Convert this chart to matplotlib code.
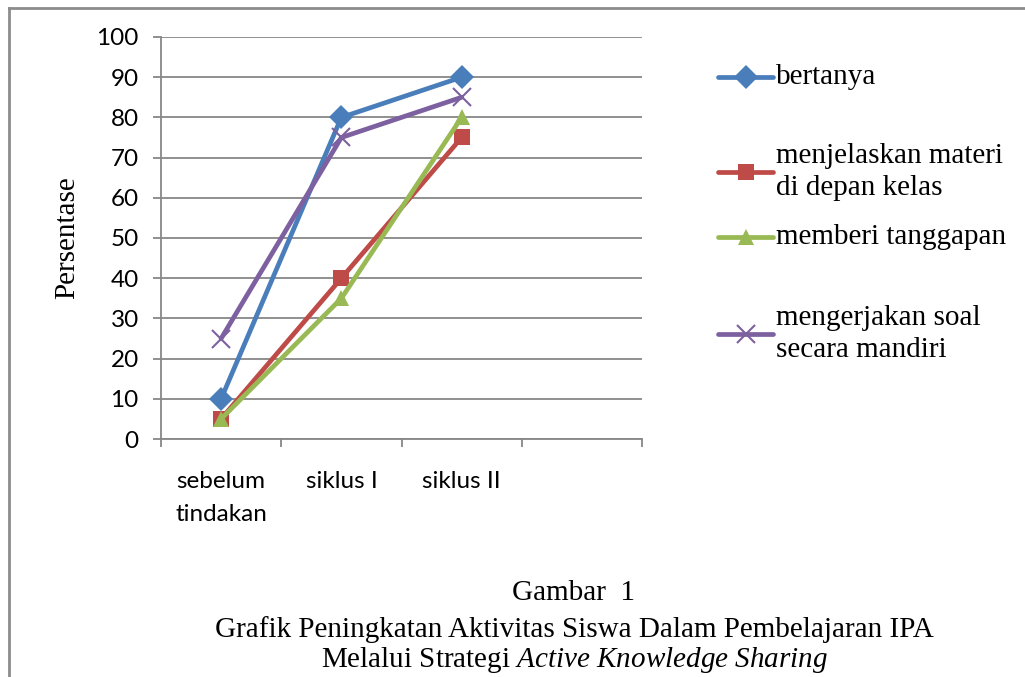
import matplotlib
matplotlib.use('Agg')
import matplotlib.pyplot as plt
from matplotlib.lines import Line2D
import numpy as np

# data
categories = ['sebelum\ntindakan', 'siklus I', 'siklus II']
bertanya = [10, 80, 90]
menjelaskan = [5, 40, 75]
memberi = [5, 35, 80]
mengerjakan = [25, 75, 85]

series = [
    ('bertanya', bertanya, '#4A7EBB', 'D'),
    ('menjelaskan materi\ndi depan kelas', menjelaskan, '#BE4B48', 's'),
    ('memberi tanggapan', memberi, '#98B954', '^'),
    ('mengerjakan soal\nsecara mandiri', mengerjakan, '#7D60A0', 'x'),
]

grid_col = '#878787'
serif = 'Liberation Serif'
sans = 'Lato'
plt.rcParams['mathtext.fontset'] = 'custom'
plt.rcParams['mathtext.rm'] = 'Liberation Serif'
plt.rcParams['mathtext.it'] = 'Liberation Serif:italic'

fig = plt.figure(figsize=(10.25, 6.77), dpi=100)
ax = fig.add_axes([161 / 1025, 1 - 439 / 677, (642 - 161) / 1025, (439 - 37) / 677])

x = np.arange(len(categories))
for name, vals, col, mk in series:
    ms = 12 if mk != 'x' else 13
    ax.plot(x, vals, color=col, lw=3.4, marker=mk, ms=ms, mew=1.5 if mk == 'x' else 0,
            mec=col, mfc=col, zorder=3, solid_capstyle='round')

ax.set_xlim(-0.5, 3.5)
ax.set_ylim(0, 100)
ax.set_yticks(np.arange(0, 101, 10))
ax.yaxis.grid(True, color=grid_col, lw=1.3)
ax.set_axisbelow(True)
for s in ['top', 'right']:
    ax.spines[s].set_visible(False)
for s in ['left', 'bottom']:
    ax.spines[s].set_color(grid_col)
    ax.spines[s].set_linewidth(1.3)

ax.set_xticks(np.arange(-0.5, 3.6, 1))
ax.set_xticklabels([])
ax.set_xticks(x, minor=True)
ax.set_xticklabels(categories, minor=True, fontfamily=sans, fontsize=17.5, linespacing=1.7)
ax.tick_params(axis='x', which='major', length=6, width=1.3, color=grid_col, direction='out')
ax.tick_params(axis='x', which='minor', length=0, pad=23)
ax.tick_params(axis='y', length=6, width=1.3, color=grid_col, pad=10, labelsize=17.5)
for lab in ax.get_yticklabels():
    lab.set_fontfamily(sans)

ax.set_ylabel('Persentase', fontfamily=serif, fontsize=21, labelpad=12)

# legend, drawn by hand
leg_y = [77, 172, 237, 334]
for (name, vals, col, mk), yy in zip(series, leg_y):
    fy = 1 - yy / 677
    ms = 12 if mk != 'x' else 13
    fig.add_artist(Line2D([718 / 1025, 773 / 1025], [fy, fy], color=col, lw=3.4,
                          transform=fig.transFigure, solid_capstyle='round'))
    fig.add_artist(Line2D([745.5 / 1025], [fy], color=col, marker=mk, ms=ms,
                          mew=1.5 if mk == 'x' else 0, mec=col, mfc=col,
                          transform=fig.transFigure))
    fig.text(776 / 1025, fy, name, fontfamily=serif, fontsize=21, va='center',
             ha='left', linespacing=1.3)

# caption
fig.text(574 / 1025, 1 - 593 / 677, 'Gambar  1', fontfamily=serif, fontsize=21,
         ha='center', va='center')
fig.text(574 / 1025, 1 - 630 / 677,
         'Grafik Peningkatan Aktivitas Siswa Dalam Pembelajaran IPA',
         fontfamily=serif, fontsize=21, ha='center', va='center')
fig.text(574 / 1025, 1 - 660 / 677,
         'Melalui Strategi $\\mathit{Active\\ Knowledge\\ Sharing}$',
         fontfamily=serif, fontsize=21, ha='center', va='center')

# frame (left and top)
fig.add_artist(Line2D([9 / 1025, 9 / 1025], [0, 1 - 8 / 677], color='#8c8c8c', lw=2,
                      transform=fig.transFigure))
fig.add_artist(Line2D([9 / 1025, 1], [1 - 8 / 677, 1 - 8 / 677], color='#8c8c8c', lw=2,
                      transform=fig.transFigure))

fig.savefig('out.png', dpi=100)
